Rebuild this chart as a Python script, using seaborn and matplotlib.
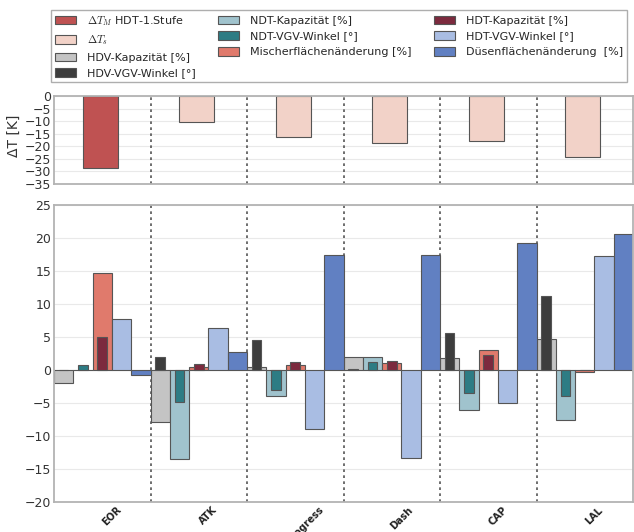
import matplotlib
matplotlib.use("Agg")
import matplotlib.pyplot as plt
from matplotlib.patches import Patch
import numpy as np
import pandas as pd
import seaborn as sns

# Operating cases
groups = ["EOR", "ATK", "Progress", "Dash", "CAP", "LAL"]

# Upper panel: temperature margin per case [K]
dT_M = [-28.7]                                   # EOR: ΔT_M HDT-1.Stufe
dT_s = [-10.3, -16.4, -18.6, -17.7, -24.1]       # ATK .. LAL: ΔT_s

# Lower panel: parameter changes per case
hdv_kap = [-1.9, -7.9, 0.5, 1.9, 1.8, 4.65]
hdv_vgv = [0.0, 1.9, 4.5, 0.1, 5.6, 11.25]
ndt_kap = [0.0, -13.5, -4.0, 1.9, -6.0, -7.5]
ndt_vgv = [0.7, -4.85, -3.0, 1.2, -3.5, -4.0]
mischer = [14.75, 0.4, 0.8, 1.05, 3.0, -0.3]
hdt_kap = [5.0, 0.85, 1.2, 1.35, 2.3, 0.0]
hdt_vgv = [7.8, 6.4, -9.0, -13.3, -5.05, 17.2]
duesen = [-0.8, 2.8, 17.5, 17.5, 19.3, 20.6]

labels = [r"$\Delta T_M$ HDT-1.Stufe", r"$\Delta T_s$",
          "HDV-Kapazität [%]", "HDV-VGV-Winkel [°]",
          "NDT-Kapazität [%]", "NDT-VGV-Winkel [°]",
          "Mischerflächenänderung [%]",
          "HDT-Kapazität [%]", "HDT-VGV-Winkel [°]",
          "Düsenflächenänderung  [%]"]
colors = ["#bf5252", "#f2d2c8",
          "#c4c4c4", "#3d3d3d",
          "#a0c3cd", "#2d7c84",
          "#e07a6c",
          "#7c2a3e", "#a9bde3",
          "#6180c2"]

sns.set_theme(style="white")
plt.rcParams["font.family"] = ["DejaVu Sans"]
plt.rcParams["mathtext.fontset"] = "cm"

EDGE = "#555555"
SPINE = "#b3b3b3"


def draw_bars(ax, pos, vals, color, width):
    df = pd.DataFrame({"pos": pos, "val": vals})
    sns.barplot(data=df, x="pos", y="val", native_scale=True, width=width,
                color=color, saturation=1, errorbar=None,
                edgecolor=EDGE, linewidth=0.8, ax=ax)


fig = plt.figure(figsize=(6.34, 5.32), dpi=100)
W, H = 634, 532
ax_t = fig.add_axes([54 / W, 1 - 184 / H, 579 / W, 88 / H])
ax_b = fig.add_axes([54 / W, 1 - 502 / H, 579 / W, 297 / H])

idx = np.arange(len(groups))

# upper panel
draw_bars(ax_t, idx[:1] + 0.48, dT_M, colors[0], 0.36)
draw_bars(ax_t, idx[1:] + 0.48, dT_s, colors[1], 0.36)

# lower panel: five wide bars per case, three narrow bars on top
wide = [(hdv_kap, colors[2]), (ndt_kap, colors[4]), (mischer, colors[6]),
        (hdt_vgv, colors[8]), (duesen, colors[9])]
for k, (vals, c) in enumerate(wide):
    draw_bars(ax_b, idx + 0.1 + 0.2 * k, vals, c, 0.2)
narrow = [(hdv_vgv, colors[3], 0), (ndt_vgv, colors[5], 1), (hdt_kap, colors[7], 2)]
for vals, c, k in narrow:
    draw_bars(ax_b, idx + 0.1 + 0.2 * k, vals, c, 0.1)

for ax, (lo, hi) in ((ax_t, (-35, 0)), (ax_b, (-20, 25))):
    ax.set_xlim(0, len(groups))
    ax.set_ylim(lo, hi)
    ax.set_yticks(np.arange(lo, hi + 1, 5))
    ax.set_xlabel("")
    ax.set_ylabel("")
    ax.yaxis.grid(True, color="#e9e9e9", lw=0.8)
    ax.set_axisbelow(True)
    for b in range(1, len(groups)):
        ax.axvline(b, color="#555555", ls=(0, (1.6, 2.0)), lw=1.2, zorder=0.8)
    for s in ax.spines.values():
        s.set_color(SPINE)
        s.set_linewidth(1.3)
    ax.tick_params(axis="both", direction="in", length=3, color=SPINE,
                   labelsize=9, labelcolor="#333333", pad=2)
    ax.set_xticks(idx + 0.6)

ax_t.tick_params(axis="x", labelbottom=False)
ax_t.set_ylabel("ΔT [K]", fontsize=10, color="#333333")
ax_t.yaxis.set_label_coords(-0.058, 0.55)

ax_b.set_xticklabels(groups, rotation=45, ha="center", fontsize=7,
                     fontweight="bold", color="#222222")

handles = [Patch(facecolor=c, edgecolor=EDGE, linewidth=0.8) for c in colors]
fig.legend(handles, labels, ncol=3, loc="upper left",
           bbox_to_anchor=(51 / W, 1 - 10 / H), borderaxespad=0, fontsize=8,
           frameon=True, fancybox=False, edgecolor="#9a9a9a",
           handlelength=1.9, handleheight=0.8, handletextpad=1.0,
           columnspacing=2.0, borderpad=0.35, labelspacing=0.5)

fig.savefig("out.png", dpi=100)
